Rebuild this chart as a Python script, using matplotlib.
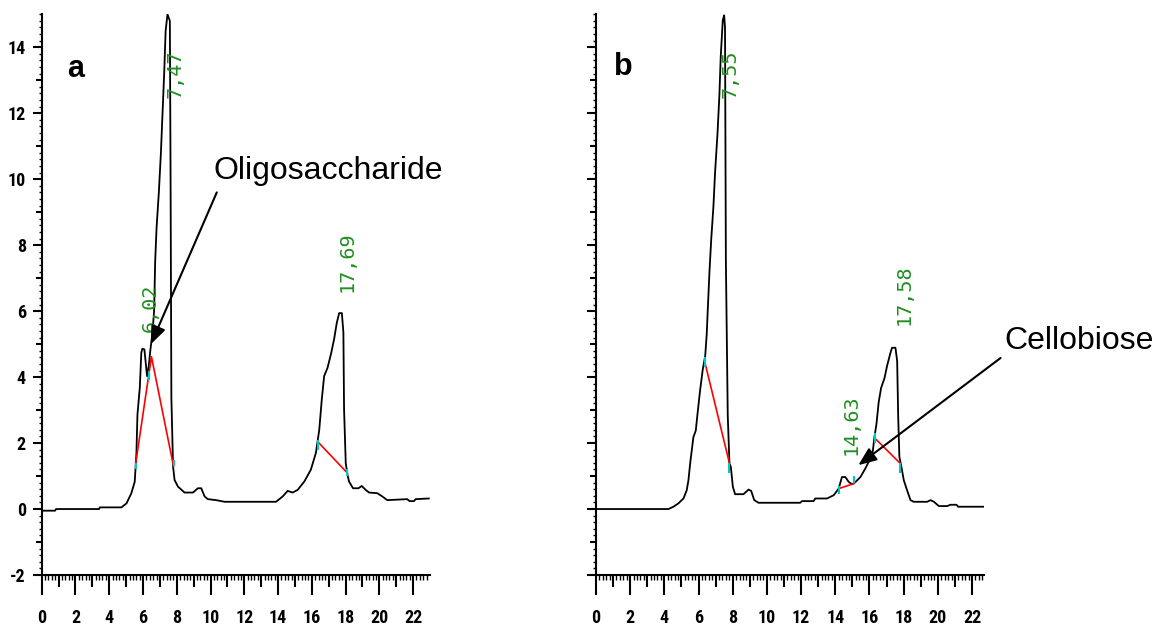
import numpy as np
import matplotlib
matplotlib.use("Agg")
import matplotlib.pyplot as plt
from matplotlib import font_manager

# ---- chromatogram a ----
ret_a = [0.0, 0.79, 0.85, 3.4, 3.44, 4.72, 5.02, 5.31, 5.51, 5.61, 5.67, 5.81, 5.9, 5.96,
         6.08, 6.14, 6.24, 6.34, 6.44, 6.56, 6.66, 6.72, 6.8, 6.94, 7.06, 7.16, 7.26,
         7.34, 7.45, 7.59, 7.63, 7.68, 7.78, 7.87, 8.07, 8.46, 8.96, 9.25, 9.45, 9.65, 9.84,
         10.33, 10.83, 13.88, 14.27, 14.57, 14.86, 15.16, 15.55, 15.94, 16.24, 16.44, 16.59,
         16.73, 16.93, 17.13, 17.32, 17.48, 17.62, 17.78, 17.87, 17.91, 18.01, 18.11, 18.21,
         18.44, 18.76, 18.96, 19.19, 19.39, 19.88, 20.18, 20.47, 21.65, 21.79, 22.05, 22.15,
         22.93]
sig_a = [-0.05, -0.05, 0.0, 0.0, 0.05, 0.05, 0.17, 0.48, 0.83, 1.7, 2.86, 3.68, 4.74, 4.86,
         4.84, 4.54, 4.03, 4.33, 4.84, 5.35, 6.03, 7.5, 8.5, 9.62, 10.8, 12.04, 13.3,
         14.5, 15.0, 14.8, 10.4, 3.37, 1.29, 0.88, 0.68, 0.5, 0.5, 0.63, 0.63, 0.38, 0.3,
         0.27, 0.22, 0.22, 0.38, 0.55, 0.5, 0.58, 0.83, 1.19, 1.7, 2.4, 3.32,
         4.03, 4.28, 4.69, 5.15, 5.65, 5.94, 5.94, 5.35, 3.02, 1.39, 1.04, 0.83,
         0.63, 0.63, 0.7, 0.58, 0.5, 0.48, 0.38, 0.27, 0.3, 0.24, 0.24, 0.3,
         0.32]
base_a = [([5.57, 6.5, 7.81], [1.39, 4.62, 1.29]), ([16.39, 18.11], [2.02, 1.09])]
marks_a_x = [5.57, 6.36, 7.85, 16.39, 18.11]
marks_a_lo = [1.2, 3.9, 1.3, 1.8, 1.0]
marks_a_hi = [1.4, 4.2, 1.5, 2.1, 1.2]
peaks_a = ["6,02", "7,47", "17,69"]
peaks_a_pos = [(6.45, 6.1), (7.9, 13.2), (18.1, 7.5)]

# ---- chromatogram b ----
ret_b = [0.0, 4.24, 4.53, 4.82, 5.12, 5.31, 5.41, 5.51, 5.7, 5.84, 5.94, 6.09, 6.25, 6.39,
         6.48, 6.54, 6.64, 6.74, 6.87, 6.97, 7.11, 7.22, 7.3, 7.42, 7.5, 7.55, 7.6, 7.71,
         7.81, 7.89, 8.01, 8.14, 8.63, 8.93, 9.08, 9.26, 9.51, 11.95, 12.05, 12.73, 12.83,
         13.52, 13.91, 14.2, 14.39, 14.59, 14.79, 14.98, 15.18, 15.47, 15.76, 16.0, 16.19,
         16.29, 16.41, 16.54, 16.68, 16.88, 17.03, 17.23, 17.32, 17.52, 17.62, 17.68, 17.75,
         17.85, 18.01, 18.2, 18.4, 18.59, 19.38, 19.57, 19.77, 20.06, 20.55, 20.74, 21.09,
         21.19, 22.79]
sig_b = [0.0, 0.0, 0.07, 0.17, 0.32, 0.57, 0.87, 1.38, 2.18, 2.38, 2.88, 3.59, 4.24, 4.64,
         5.3, 6.03, 7.19, 8.15, 9.16, 10.22, 11.38, 12.54, 13.73, 14.82, 14.97, 14.6, 7.55, 2.83,
         1.38, 1.28, 0.67, 0.45, 0.45, 0.59, 0.55, 0.27, 0.19, 0.19, 0.24, 0.24, 0.32,
         0.32, 0.42, 0.62, 0.97, 0.97, 0.82, 0.75, 0.82, 0.97, 1.23, 1.48, 1.73,
         2.18, 2.58, 3.24, 3.67, 3.97, 4.34, 4.74, 4.89, 4.89, 4.49, 2.83, 1.58,
         1.33, 0.87, 0.57, 0.27, 0.22, 0.22, 0.27, 0.22, 0.09, 0.09, 0.13, 0.13,
         0.07, 0.07]
base_b = [([6.39, 7.79], [4.41, 1.43]), ([14.2, 15.08], [0.62, 0.77]), ([16.35, 17.81], [2.13, 1.38])]
marks_b_x = [6.39, 7.8, 14.2, 15.08, 16.3, 17.8]
marks_b_lo = [4.3, 1.1, 0.45, 0.8, 2.0, 1.1]
marks_b_hi = [4.6, 1.4, 0.7, 1.0, 2.3, 1.4]
peaks_b = ["7,55", "14,63", "17,58"]
peaks_b_pos = [(7.85, 13.2), (14.95, 2.55), (18.0, 6.5)]

yticks = [-2, 0, 2, 4, 6, 8, 10, 12, 14]
xticks = [0, 2, 4, 6, 8, 10, 12, 14, 16, 18, 20, 22]

green = "#1f8f1f"
cyan = "#00c8c8"

# narrow face for the tick numbers if one is installed
names = {f.name for f in font_manager.fontManager.ttflist}
tick_font = "DejaVu Sans"
for cand in ["Liberation Sans Narrow", "DejaVu Sans Condensed", "Roboto Condensed"]:
    if cand in names:
        tick_font = cand
        break
plt.rcParams["font.family"] = ["Liberation Sans", "DejaVu Sans"]

fig = plt.figure(figsize=(11.59, 6.3), dpi=100)
ax_a = fig.add_axes([0.036, 0.0873, 0.335, 0.890])
ax_b = fig.add_axes([0.5142, 0.0873, 0.3348, 0.890])


def style_axis(ax, xmax, ylabels):
    ax.set_xlim(0, xmax)
    ax.set_ylim(-2, 15)
    for s in ["top", "right"]:
        ax.spines[s].set_visible(False)
    for s in ["left", "bottom"]:
        ax.spines[s].set_linewidth(1.5)
    ax.set_xticks(np.arange(0, 23, 1))
    ax.set_xticks(np.arange(0, xmax, 0.2), minor=True)
    ax.set_yticks(np.arange(-2, 15, 1))
    ax.set_yticks(np.arange(-2, 15.01, 0.2), minor=True)
    ax.set_xticklabels([str(v) if v in xticks else "" for v in range(0, 23)])
    if ylabels:
        ax.set_yticklabels([str(v) if v in yticks else "" for v in range(-2, 15)])
    else:
        ax.set_yticklabels([])
    ax.tick_params(axis="x", which="major", direction="out", length=14.5, width=1.5, pad=10,
                   labelsize=13)
    ax.tick_params(axis="x", which="minor", direction="out", length=3.8, width=1.0)
    ax.tick_params(axis="y", which="major", direction="out", length=6.5, width=1.5, pad=5,
                   labelsize=13)
    ax.tick_params(axis="y", which="minor", direction="out", length=2.2, width=1.0)
    for lab in ax.get_xticklabels() + ax.get_yticklabels():
        lab.set_family(tick_font)
        lab.set_fontweight("bold")
    # medium ticks at the odd units
    for v, t in zip(range(0, 23), ax.xaxis.get_major_ticks()):
        if v % 2:
            t.tick1line.set_markersize(8.5)
    for v, t in zip(range(-2, 15), ax.yaxis.get_major_ticks()):
        if v % 2:
            t.tick1line.set_markersize(4.3)


style_axis(ax_a, 23, True)
style_axis(ax_b, 22.7, False)

# curves
ax_a.plot(ret_a, sig_a, color="black", lw=1.3)
ax_b.plot(ret_b, sig_b, color="black", lw=1.3)

# integration baselines
for bx, by in base_a:
    ax_a.plot(bx, by, color="red", lw=1.2)
for bx, by in base_b:
    ax_b.plot(bx, by, color="red", lw=1.2)

ax_a.vlines(marks_a_x, marks_a_lo, marks_a_hi, color=cyan, lw=1.5)
ax_b.vlines(marks_b_x, marks_b_lo, marks_b_hi, color=cyan, lw=1.5)

for lab, (px, py) in zip(peaks_a, peaks_a_pos):
    ax_a.text(px, py, lab, rotation=90, color=green, fontsize=14.5, family="DejaVu Sans Mono",
              ha="center", va="center")
for lab, (px, py) in zip(peaks_b, peaks_b_pos):
    ax_b.text(px, py, lab, rotation=90, color=green, fontsize=14.5, family="DejaVu Sans Mono",
              ha="center", va="center")

# panel letters
ax_a.text(2.0, 13.35, "a", fontsize=22, fontweight="bold", ha="center", va="center")
ax_b.text(1.6, 13.4, "b", fontsize=22, fontweight="bold", ha="center", va="center")

# annotations
ax_a.text(16.95, 10.25, "Oligosaccharide", fontsize=23, ha="center", va="center")
ax_a.annotate("", xy=(6.47, 5.0), xytext=(10.37, 9.6),
              arrowprops=dict(arrowstyle="-|>,head_length=1.1,head_width=0.45",
                              color="black", lw=1.5, shrinkA=0, shrinkB=0))
ax_b.text(28.25, 5.1, "Cellobiose", fontsize=23, ha="center", va="center", clip_on=False)
ax_b.annotate("", xy=(15.35, 1.33), xytext=(23.67, 4.58), annotation_clip=False,
              arrowprops=dict(arrowstyle="-|>,head_length=1.1,head_width=0.45",
                              color="black", lw=1.5, shrinkA=0, shrinkB=0))

fig.savefig("out.png", dpi=100)
